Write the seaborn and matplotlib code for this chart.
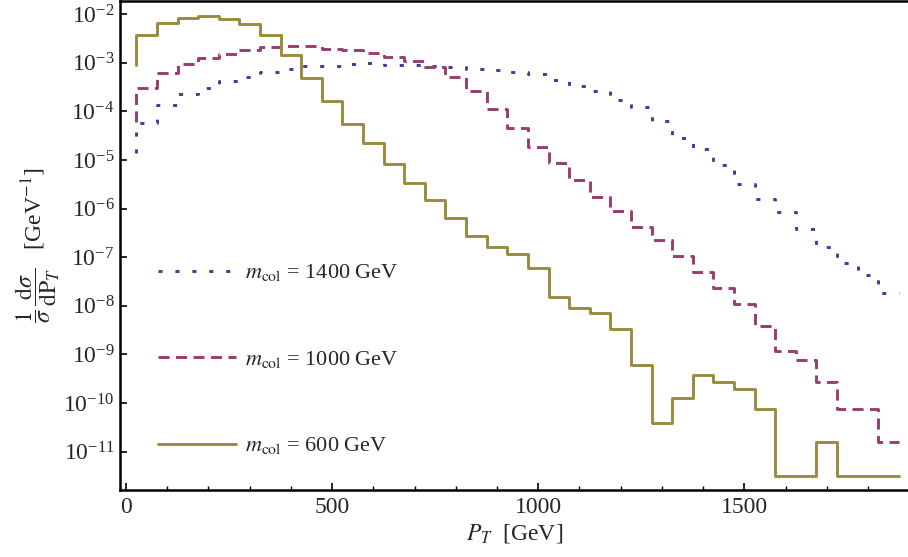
import numpy as np
import pandas as pd
import matplotlib
matplotlib.use("Agg")
import matplotlib.pyplot as plt
import seaborn as sns
from matplotlib.ticker import LogLocator, MultipleLocator, NullLocator

# bin edges of the P_T histograms (GeV); first entry is the starting point of the step line
pt_edges = list(range(25, 1876, 50))

# log10 of (1/sigma) dsigma/dP_T
log_m1400 = [-4.85,
             -4.23, -3.87, -3.65, -3.51, -3.38, -3.29, -3.20, -3.12, -3.07, -3.06,
             -3.03, -3.01, -3.04, -3.04, -3.06, -3.08, -3.12, -3.15, -3.19, -3.23,
             -3.35, -3.47, -3.58, -3.76, -3.92, -4.20, -4.54, -4.78, -5.11, -5.50,
             -5.81, -6.07, -6.42, -6.79, -7.12, -7.37, -7.73]
log_m1000 = [-4.22,
             -3.53, -3.21, -3.03, -2.91, -2.82, -2.73, -2.67, -2.66, -2.66, -2.71,
             -2.73, -2.79, -2.88, -2.97, -3.08, -3.30, -3.58, -3.95, -4.35, -4.74,
             -5.06, -5.42, -5.77, -6.05, -6.38, -6.65, -6.97, -7.30, -7.64, -7.97,
             -8.42, -8.93, -9.11, -9.57, -10.13, -10.13, -10.81]
log_m600 = [-3.05,
            -2.43, -2.18, -2.07, -2.03, -2.10, -2.21, -2.43, -2.84, -3.32, -3.78,
            -4.26, -4.66, -5.09, -5.48, -5.83, -6.20, -6.56, -6.80, -6.94, -7.23,
            -7.82, -8.04, -8.14, -8.47, -9.21, -10.41, -9.90, -9.43, -9.57, -9.72,
            -10.13, -11.51, -11.51, -10.81, -11.51, -11.51, -11.51]

labels = [r"$m_{\rm col}$ = 1400 GeV", r"$m_{\rm col}$ = 1000 GeV", r"$m_{\rm col}$ = 600 GeV"]
series = [log_m1400, log_m1000, log_m600]
colors = ["#3d3d99", "#993d71", "#998c3d"]
dashes = [(1.4, 4.4), (3.8, 2.2), None]

sns.set_theme(style="ticks")
plt.rcParams["font.family"] = ["Liberation Serif", "DejaVu Serif"]
plt.rcParams["mathtext.fontset"] = "stix"

fig = plt.figure(figsize=(9.08, 5.57), dpi=100)
ax = fig.add_axes([120 / 908, 67 / 557, 790 / 908, 489 / 557])

for lab, vals, col, dsh in zip(labels, series, colors, dashes):
    df = pd.DataFrame({"pt": pt_edges, "y": 10.0 ** np.array(vals)})
    kw = dict(linestyle="-") if dsh is None else dict(dashes=dsh)
    sns.lineplot(data=df, x="pt", y="y", ax=ax, color=col, lw=2.1,
                 drawstyle="steps-pre", label=lab, **kw)

ax.set_yscale("log")
ax.set_xlim(-14.6, 1902)
ax.set_ylim(10 ** -11.79, 10 ** -1.73)

ax.xaxis.set_major_locator(MultipleLocator(500))
ax.xaxis.set_minor_locator(MultipleLocator(100))
ax.yaxis.set_major_locator(LogLocator(base=10, numticks=20))
ax.yaxis.set_minor_locator(NullLocator())
ax.tick_params(which="both", direction="in", labelsize=17, color="black")
ax.tick_params(which="major", length=5, width=1.2)
ax.tick_params(which="minor", length=3, width=1.0)
ax.tick_params(axis="y", pad=4)
ax.tick_params(axis="x", pad=5)

for s in ["left", "bottom", "top"]:
    ax.spines[s].set_linewidth(1.8)
    ax.spines[s].set_color("black")
ax.spines["right"].set_visible(False)

ax.set_xlabel(r"$P_T$  [GeV]", fontsize=17, labelpad=3)
ax.set_ylabel(r"$\dfrac{1}{\sigma}\,\dfrac{\mathrm{d}\sigma}{\mathrm{dP}_T}$   [GeV$^{-1}$]",
              fontsize=17)
ax.yaxis.set_label_coords(-0.073, 0.5)

ax.legend(loc="center left", bbox_to_anchor=(0.048, 0.267), frameon=False,
          fontsize=16, handlelength=3.5, handletextpad=0.4, labelspacing=2.95,
          borderpad=0, borderaxespad=0)

fig.savefig("out.png", dpi=100)
